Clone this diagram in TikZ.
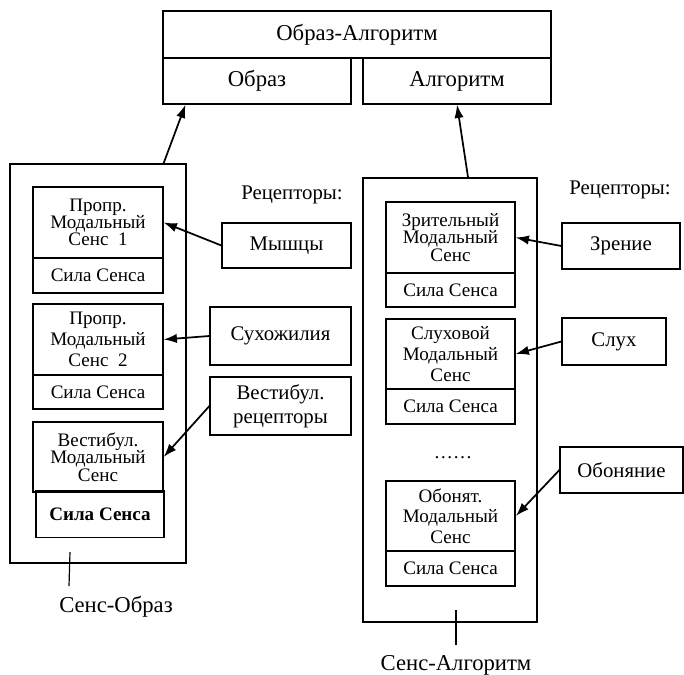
\documentclass[tikz,border=0pt]{standalone}
\usepackage{fontspec}
\setmainfont{Liberation Serif}
\usetikzlibrary{arrows.meta,calc}
\begin{document}
\begin{tikzpicture}[x=0.75pt,y=-0.75pt,
  bx/.style 2 args={draw,line width=0.9pt,rectangle,inner sep=0pt,minimum width=#1*0.75pt,minimum height=#2*0.75pt,align=center},
  tight/.style={font=\fontsize{14.3}{13}\selectfont},
  loose/.style={font=\fontsize{14.3}{15.5}\selectfont},
  big/.style={font=\fontsize{17}{19}\selectfont},
  rec/.style={font=\fontsize{15.6}{18}\selectfont},
  arr/.style={line width=1.3pt,-{Latex[length=10pt,width=7pt]}},
  plain/.style={line width=0.9pt},
  lbl/.style={inner sep=0pt}]
\useasboundingbox (0,0) rectangle (684,674);
% top
\node[bx={388}{47},big] (OA) at (357,34.5) {Образ-Алгоритм};
\node[bx={188}{46},big] (obraz) at (257,81) {Образ};
\node[bx={188}{46},big] (alg) at (457,81) {Алгоритм};
% left container
\node[bx={176}{399}] (LC) at (98,363.5) {};
\node[bx={130}{71},tight] (L1) at (98,222.5) {Пропр.\\Модальный\\Сенс\ \ 1};
\node[bx={130}{35},tight] (L1s) at (98,275.5) {Сила Сенса};
\node[bx={130}{71},loose] (L2) at (98,339.5) {Пропр.\\Модальный\\Сенс\ \ 2};
\node[bx={130}{34},tight] (L2s) at (98,392) {Сила Сенса};
\node[bx={130}{70},tight] (L3) at (98,457) {Вестибул.\\Модальный\\Сенс};
\node[bx={128}{47},tight,font=\fontsize{14.3}{13}\selectfont\bfseries] (L3s) at (100,514) {Сила Сенса};
% left receptors
\node[lbl,rec] (recL) at (292,195) {Рецепторы:};
\node[bx={129}{45},rec] (mysh) at (286.5,245.5) {Мышцы};
\node[bx={141}{58},rec] (sukh) at (280.5,336) {Сухожилия};
\node[bx={141}{58},font=\fontsize{15.6}{18}\selectfont] (vest) at (280.5,406) {Вестибул.\\рецепторы};
% right container
\node[bx={174}{444}] (RC) at (450,400) {};
\node[bx={129}{71},tight] (R1) at (450.5,237.5) {Зрительный\\Модальный\\Сенс};
\node[bx={129}{34},tight] (R1s) at (450.5,290) {Сила Сенса};
\node[bx={129}{70},loose] (R2) at (450.5,354) {Слуховой\\Модальный\\Сенс};
\node[bx={129}{35},tight] (R2s) at (450.5,406.5) {Сила Сенса};
\node[lbl,tight] (dots) at (453,458) {……};
\node[bx={129}{70},loose,line width=1.3pt] (R3) at (450.5,516) {Обонят.\\Модальный\\Сенс};
\node[bx={129}{35},tight] (R3s) at (450.5,568.5) {Сила Сенса};
% right receptors
\node[lbl,rec] (recR) at (620,190) {Рецепторы:};
\node[bx={118}{46},rec] (zren) at (621,246) {Зрение};
\node[bx={104}{47},rec] (slukh) at (614,341.5) {Слух};
\node[bx={123}{46},rec] (obon) at (621.5,470) {Обоняние};
% arrows
\draw[arr] ($(LC.north west)!0.87!(LC.north east)$) -- ($(obraz.south west)!0.122!(obraz.south east)$);
\draw[arr] ($(RC.north west)!0.603!(RC.north east)$) -- (alg.south);
\draw[arr] (mysh.west) -- (L1.east);
\draw[arr] (sukh.west) -- (L2.east);
\draw[arr] (vest.west) -- (L3.east);
\draw[arr] (zren.west) -- (R1.east);
\draw[arr] (slukh.west) -- (R2.east);
\draw[arr] (obon.west) -- (R3.east);
% bottom labels
\node[lbl,big] (SO) at (116,607) {Сенс-Образ};
\node[lbl,big] (SA) at (456,665) {Сенс-Алгоритм};
\coordinate (so1) at (70,552);
\coordinate (so2) at (69,586);
\coordinate (sa1) at (456,610);
\coordinate (sa2) at (456,645);
\draw[plain] (so1) -- (so2);
\draw[plain] (sa1) -- (sa2);
\end{tikzpicture}
\end{document}
